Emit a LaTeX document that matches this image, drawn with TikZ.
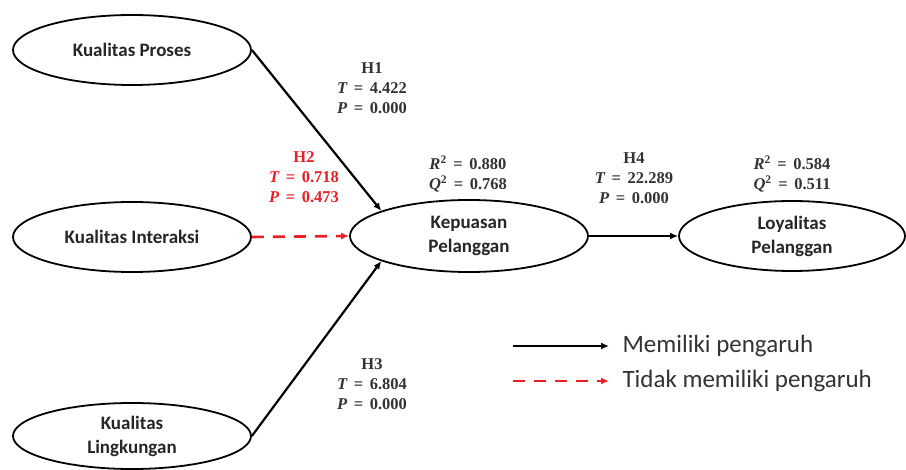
\documentclass[tikz,border=0pt]{standalone}
\usepackage{fontspec}
\setmainfont{Carlito}
\newfontfamily\hypfont{Liberation Serif}
\usetikzlibrary{arrows.meta,shapes.geometric}
\definecolor{sigred}{RGB}{235,30,35}
\tikzset{
  construct/.style={draw=black, line width=1.8pt, ellipse, minimum width=#1, minimum height=70pt, inner sep=0pt, align=center, font=\fontsize{19}{24}\selectfont\bfseries, text=black!85},
  construct/.default=238pt,
  path sig/.style={draw=black, line width=2.2pt, -{Latex[length=8pt,width=7pt]}},
  path nonsig/.style={draw=sigred, line width=2.6pt, dash pattern=on 12pt off 9pt, -{Latex[length=8pt,width=7pt]}},
  stat/.style={align=center, font=\hypfont\bfseries\fontsize{16.5}{20}\selectfont, text=black!80},
  legendtext/.style={anchor=west, font=\fontsize{25}{28}\selectfont, text=black!80}
}
% one "symbol = value" line in the statistics labels
\newcommand{\eqline}[2]{{\itshape #1}\hspace{0.4em}=\hspace{0.4em}#2}
\newcommand{\sqline}[2]{{\itshape #1}\textsuperscript{2}\hspace{0.4em}=\hspace{0.4em}#2}
\begin{document}
\begin{tikzpicture}[x=1pt,y=-1pt]
  \useasboundingbox (0,0) rectangle (906,470);
  \fill[white] (0,0) rectangle (906,470);

  % exogenous constructs
  \node[construct] (proses) at (132,50) {Kualitas Proses};
  \node[construct] (interaksi) at (132,237) {Kualitas Interaksi};
  \node[construct, minimum height=66pt] (lingkungan) at (132,436) {Kualitas\\Lingkungan};

  % endogenous constructs
  \node[construct, minimum height=72pt] (kepuasan) at (469,236) {Kepuasan\\Pelanggan};
  \node[construct=226pt] (loyalitas) at (792,236) {Loyalitas\\Pelanggan};

  % structural paths
  \draw[path sig] (proses.east) -- (kepuasan.164);
  \draw[path nonsig] (interaksi.east) -- (kepuasan.west);
  \draw[path sig] (lingkungan.east) -- (kepuasan.196);
  \draw[path sig] (kepuasan.east) -- (loyalitas.west);

  % path statistics
  \node[stat] (h1) at (372,88) {H1\\\eqline{T}{4.422}\\\eqline{P}{0.000}};
  \node[stat, text=sigred] (h2) at (304,177) {H2\\\eqline{T}{0.718}\\\eqline{P}{0.473}};
  \node[stat] (h3) at (372,384) {H3\\\eqline{T}{6.804}\\\eqline{P}{0.000}};
  \node[stat] (h4) at (634,178) {H4\\\eqline{T}{22.289}\\\eqline{P}{0.000}};

  % explained variance and predictive relevance
  \node[stat] (fitkep) at (468,174) {\sqline{R}{0.880}\\\sqline{Q}{0.768}};
  \node[stat] (fitloy) at (792,174) {\sqline{R}{0.584}\\\sqline{Q}{0.511}};

  % legend
  \coordinate (l1a) at (513,346);
  \coordinate (l1b) at (609,346);
  \coordinate (l2a) at (513,381);
  \coordinate (l2b) at (609,381);
  \draw[path sig] (l1a) -- (l1b);
  \draw[path nonsig] (l2a) -- (l2b);
  \node[legendtext] (lg1) at (619,346) {Memiliki pengaruh};
  \node[legendtext] (lg2) at (619,381) {Tidak memiliki pengaruh};
\end{tikzpicture}
\end{document}
